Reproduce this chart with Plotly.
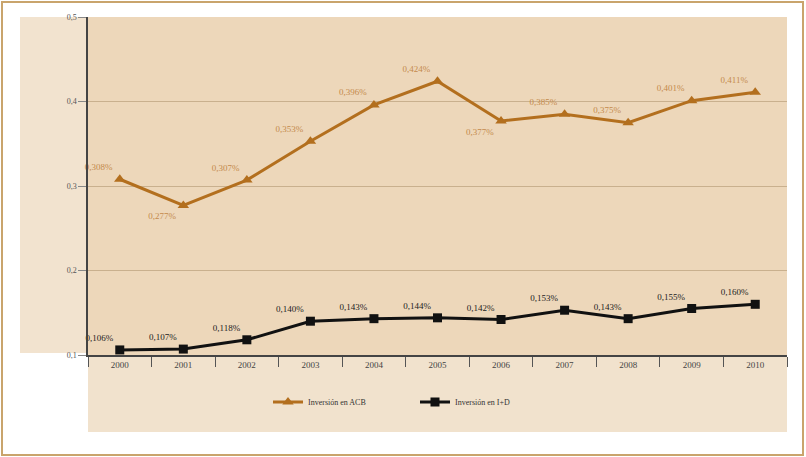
import plotly.graph_objects as go

years = ["2000", "2001", "2002", "2003", "2004", "2005",
         "2006", "2007", "2008", "2009", "2010"]
acb = [0.308, 0.277, 0.307, 0.353, 0.396, 0.424,
       0.377, 0.385, 0.375, 0.401, 0.411]
imasd = [0.106, 0.107, 0.118, 0.140, 0.143, 0.144,
         0.142, 0.153, 0.143, 0.155, 0.160]
acb_pos = ["top left", "bottom left", "top left", "top left", "top left", "top left",
           "bottom left", "top left", "top left", "top left", "top left"]
series_names = ["Inversión en ACB", "Inversión en I+D"]


def pct(v):
    return f"{v:.3f}%".replace(".", ",")


SERIF = "Liberation Serif, Times New Roman, serif"
ORANGE = "#B36F1E"

fig = go.Figure()
fig.add_trace(go.Scatter(
    x=years, y=acb, name=series_names[0], mode="lines+markers+text",
    line=dict(color=ORANGE, width=3),
    marker=dict(symbol="triangle-up", size=10, color=ORANGE),
    text=[pct(v) for v in acb], textposition=acb_pos,
    textfont=dict(family=SERIF, size=9, color="#C48A4C"),
    cliponaxis=False,
))
fig.add_trace(go.Scatter(
    x=years, y=imasd, name=series_names[1], mode="lines+markers+text",
    line=dict(color="#111111", width=3),
    marker=dict(symbol="square", size=9, color="#111111"),
    text=[pct(v) for v in imasd], textposition="top left",
    textfont=dict(family=SERIF, size=9, color="#222222"),
    cliponaxis=False,
))

W, H = 806, 457
L, R, T, B = 88, 19, 17, 102
pw, ph = W - L - R, H - T - B


def px_x(x):
    return (x - L) / pw


def px_y(y):
    return (H - B - y) / ph


shapes = [
    # outer frame
    dict(type="rect", xref="paper", yref="paper", layer="below",
         x0=px_x(2), x1=px_x(803), y0=px_y(455), y1=px_y(2),
         line=dict(color="#C9A46C", width=2)),
    # side panel next to the value axis
    dict(type="rect", xref="paper", yref="paper", layer="below",
         x0=px_x(20), x1=px_x(88), y0=px_y(353), y1=px_y(17),
         line=dict(width=0), fillcolor="#F2E3CF"),
    # band under the category axis
    dict(type="rect", xref="paper", yref="paper", layer="below",
         x0=px_x(88), x1=px_x(787), y0=px_y(432), y1=px_y(355),
         line=dict(width=0), fillcolor="#F1E2CD"),
]

fig.update_layout(
    width=W, height=H,
    margin=dict(l=L, r=R, t=T, b=B),
    paper_bgcolor="white",
    plot_bgcolor="#EDD7BA",
    separators=",.",
    shapes=shapes,
    showlegend=True,
    legend=dict(orientation="h", x=px_x(268), xanchor="left",
                y=px_y(402), yanchor="middle",
                font=dict(family=SERIF, size=8, color="#333333"),
                bgcolor="rgba(0,0,0,0)", itemwidth=30,
                entrywidth=102, entrywidthmode="pixels"),
    xaxis=dict(type="category", tickson="boundaries", ticks="outside",
               ticklen=10, tickcolor="#555555", showgrid=False,
               showline=True, linecolor="#444444", linewidth=1.5,
               tickfont=dict(family=SERIF, size=9, color="#444444"),
               range=[-0.5, 10.5]),
    yaxis=dict(range=[0.1, 0.5], tickvals=[0.1, 0.2, 0.3, 0.4, 0.5],
               tickformat=".1f", ticks="outside", ticklen=8,
               tickcolor="#888888", showline=True, linecolor="#444444",
               linewidth=1.5, showgrid=True, gridcolor="#C9B08E",
               gridwidth=1, zeroline=False,
               tickfont=dict(family=SERIF, size=8, color="#555555")),
)

fig.write_html("out.html")
